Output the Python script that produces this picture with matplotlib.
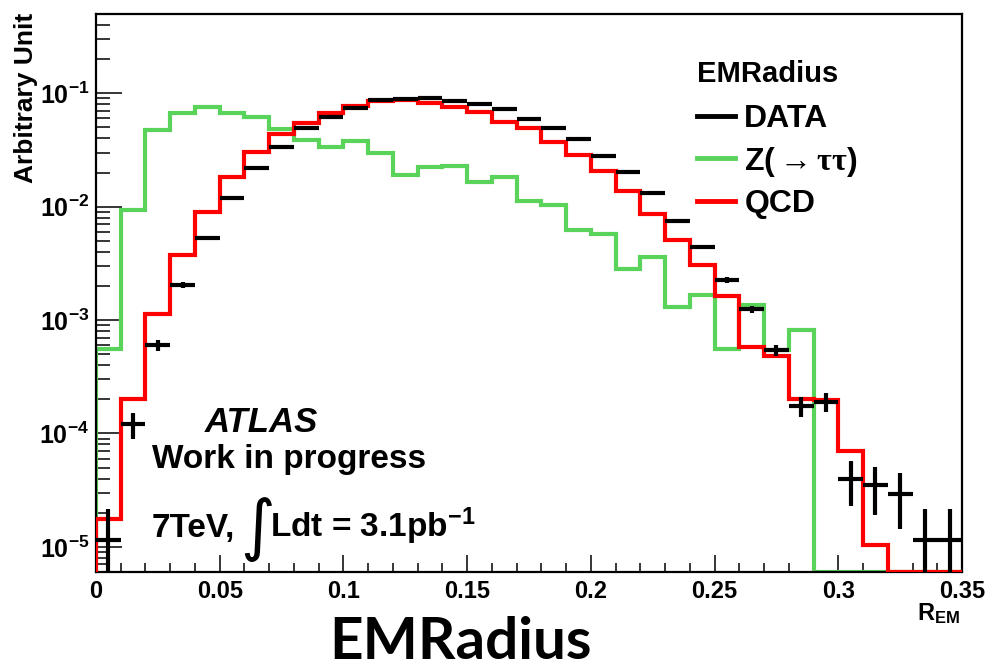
import numpy as np
import matplotlib
matplotlib.use("Agg")
import matplotlib.pyplot as plt
from matplotlib.lines import Line2D

plt.rcParams['font.family'] = ['Liberation Sans', 'DejaVu Sans']
plt.rcParams['font.weight'] = 'bold'
plt.rcParams['mathtext.fontset'] = 'custom'
plt.rcParams['mathtext.rm'] = 'Liberation Serif'
plt.rcParams['mathtext.it'] = 'Liberation Serif'
plt.rcParams['mathtext.bf'] = 'Liberation Sans:bold'

# R_EM binning: 35 bins of 0.01
bin_edges = np.round(np.arange(36) * 0.01, 2)

z_tautau = [5.6e-4, 9.3e-3, 0.0474, 0.0675, 0.0762, 0.0675, 0.0614, 0.0488, 0.0388,
            0.0338, 0.0377, 0.0299, 0.0191, 0.0222, 0.0228, 0.0165, 0.0184, 0.0112,
            0.0103, 0.0062, 0.0057, 0.0028, 0.0036, 0.00131, 0.00166, 5.5e-4, 1.35e-3,
            5.4e-4, 8.1e-4, 0, 0, 0, 0, 0, 0]
qcd = [1.77e-5, 2.03e-4, 1.14e-3, 3.74e-3, 9.0e-3, 0.0184, 0.0306, 0.0438, 0.0543,
       0.0675, 0.0773, 0.0855, 0.0873, 0.0816, 0.0762, 0.0684, 0.0562, 0.0491, 0.0374,
       0.0285, 0.0206, 0.0138, 8.7e-3, 5.07e-3, 3.05e-3, 1.64e-3, 5.8e-4, 4.8e-4,
       2.03e-4, 1.96e-4, 7.0e-5, 1.03e-5, 0, 0, 0]
data = [1.14e-5, 1.2e-4, 6.0e-4, 2.03e-3, 5.25e-3, 0.012, 0.0218, 0.0338, 0.0497,
        0.0622, 0.0738, 0.0873, 0.089, 0.0903, 0.086, 0.0805, 0.0722, 0.059, 0.0491,
        0.0393, 0.028, 0.0201, 0.0131, 7.5e-3, 4.43e-3, 2.25e-3, 1.24e-3, 5.4e-4,
        1.74e-4, 1.9e-4, 4.0e-5, 3.49e-5, 2.95e-5, 1.14e-5, 1.14e-5]
data_err = [1.0e-5, 3.0e-5, 6.5e-5, 1.2e-4, 1.9e-4, 2.9e-4, 3.9e-4, 4.9e-4, 6.0e-4,
            6.6e-4, 7.3e-4, 7.9e-4, 8.0e-4, 8.0e-4, 7.9e-4, 7.6e-4, 7.2e-4, 6.5e-4,
            5.9e-4, 5.3e-4, 4.5e-4, 3.8e-4, 3.1e-4, 2.3e-4, 1.8e-4, 1.3e-4, 9.5e-5,
            6.2e-5, 3.5e-5, 3.6e-5, 1.7e-5, 1.6e-5, 1.5e-5, 1.0e-5, 1.0e-5]

ytick_vals = [1e-5, 1e-4, 1e-3, 1e-2, 1e-1]
ytick_labels = [r'$\mathbf{10^{-5}}$', r'$\mathbf{10^{-4}}$', r'$\mathbf{10^{-3}}$',
                r'$\mathbf{10^{-2}}$', r'$\mathbf{10^{-1}}$']
xtick_vals = [0, 0.05, 0.1, 0.15, 0.2, 0.25, 0.3, 0.35]
xtick_labels = ['0', '0.05', '0.1', '0.15', '0.2', '0.25', '0.3', '0.35']
legend_labels = ['DATA', r'Z($\mathrm{\rightarrow\tau\tau}$)', 'QCD']

green = '#5ad35a'
ylo, yhi = 6e-6, 0.5

W, H = 987, 671
fig = plt.figure(figsize=(W / 100, H / 100), dpi=100)
ax = fig.add_axes([96 / W, 1 - 572 / H, 866 / W, 558 / H])
ax.set_yscale('log')

ax.stairs(np.where(np.array(z_tautau) > 0, z_tautau, ylo), bin_edges, baseline=ylo,
          color=green, lw=3, zorder=2)
ax.stairs(np.where(np.array(qcd) > 0, qcd, ylo), bin_edges, baseline=ylo,
          color='red', lw=3, zorder=3)
centers = (bin_edges[:-1] + bin_edges[1:]) / 2
ax.errorbar(centers, data, xerr=0.005, yerr=data_err, fmt='none', ecolor='black',
            elinewidth=3, capsize=0, zorder=4)

ax.set_xlim(0, 0.35)
ax.set_ylim(ylo, yhi)

ax.set_xticks(xtick_vals)
ax.set_xticklabels(xtick_labels)
ax.set_xticks(np.round(np.arange(36) * 0.01, 2), minor=True)
ax.set_yticks(ytick_vals)
ax.set_yticklabels(ytick_labels)

ax.tick_params(axis='x', which='major', direction='in', length=12, width=1.1,
               labelsize=17, pad=6)
ax.tick_params(axis='x', which='minor', direction='in', length=6.5, width=1.1)
ax.tick_params(axis='y', which='major', direction='in', length=19, width=1.1,
               labelsize=18, pad=5)
ax.tick_params(axis='y', which='minor', direction='in', length=10, width=1.1,
               labelleft=False)
for sp in ax.spines.values():
    sp.set_linewidth(1.6)

handles = [Line2D([], [], color='black', lw=3.5),
           Line2D([], [], color=green, lw=3.5),
           Line2D([], [], color='red', lw=3.5)]
leg = ax.legend(handles, legend_labels, loc='upper left',
                bbox_to_anchor=((697 - 96) / 866, (572 - 104) / 558),
                frameon=False, fontsize=23, handlelength=1.2, handletextpad=0.28,
                labelspacing=0.33, borderpad=0, borderaxespad=0)

def fx(px):
    return px / W

def fy(py):
    return 1 - py / H

fig.text(fx(697), fy(82), 'EMRadius', fontsize=21, weight='bold', va='baseline')

fig.text(fx(205), fy(432), 'ATLAS', fontsize=25, style='italic', weight='bold',
         va='baseline')
fig.text(fx(152), fy(468), 'Work in progress', fontsize=24, weight='bold',
         va='baseline')
fig.text(fx(152), fy(537), '7TeV,', fontsize=24, weight='bold', va='baseline')
fig.text(fx(240), fy(562), '\u222b', fontsize=48, weight='normal',
         family='DejaVu Sans', va='bottom')
fig.text(fx(270), fy(537), r'Ldt = 3.1pb$\mathbf{^{-1}}$', fontsize=24, weight='bold',
         va='baseline')

fig.text(fx(26), fy(13), 'Arbitrary Unit', fontsize=19, weight='bold', rotation=90,
         ha='center', va='top')
fig.text(fx(960), fy(620), r'$\mathbf{R_{EM}}$', fontsize=17, ha='right',
         va='baseline')

fig.text(fx(461), fy(659), 'EMRadius', fontsize=42, weight='bold', family='Lato',
         ha='center', va='baseline')

fig.savefig('out.png', dpi=100)
